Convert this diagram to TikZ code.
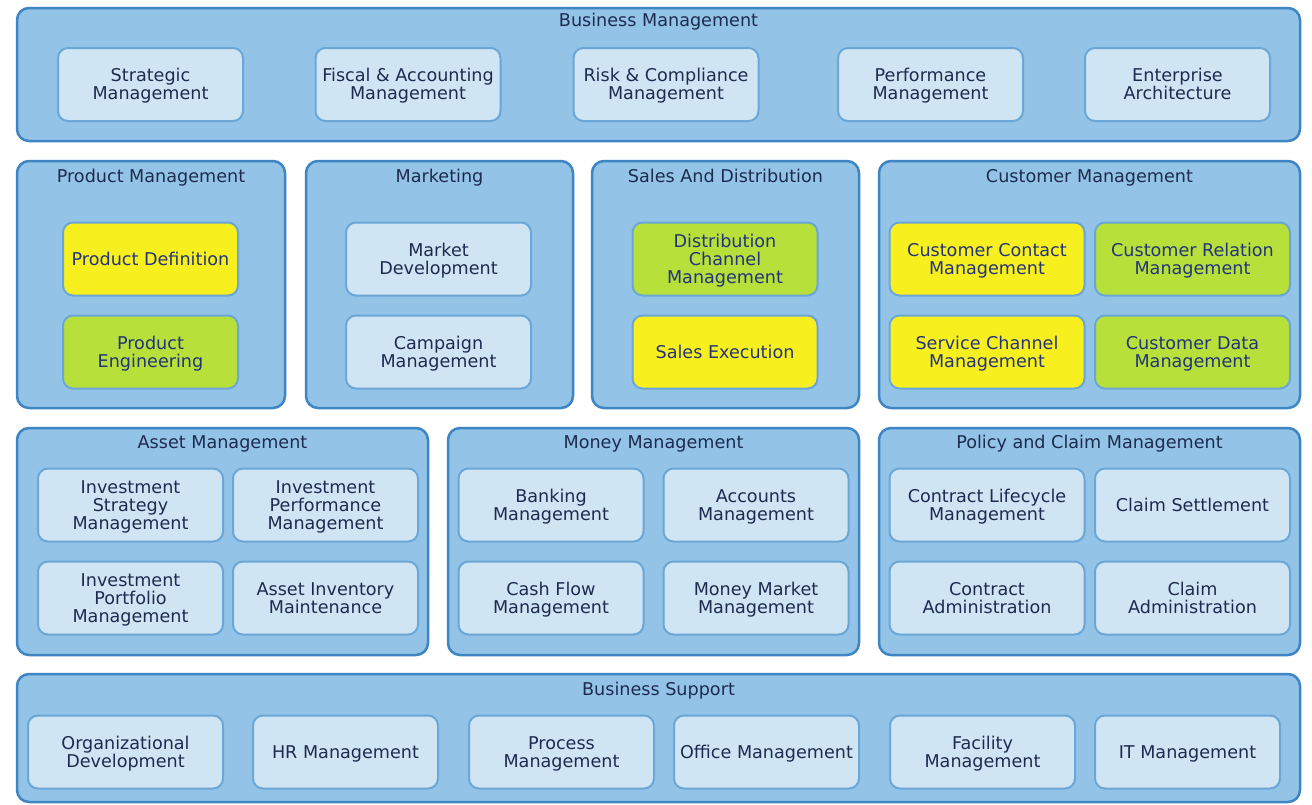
\documentclass[tikz,border=0pt]{standalone}
\usepackage{fontspec}
\setmainfont{DejaVu Sans}
\definecolor{outerfill}{HTML}{93C4E7}
\definecolor{outerline}{HTML}{3D85C3}
\definecolor{innerfill}{HTML}{D0E5F3}
\definecolor{innerline}{HTML}{6AA6D6}
\definecolor{ylwfill}{HTML}{F8F01E}
\definecolor{grnfill}{HTML}{B7E03A}
\definecolor{txt}{HTML}{1E2B4F}
\definecolor{txtb}{HTML}{24337A}
\tikzset{
  outerbox/.style={draw=outerline, line width=2.5pt, fill=outerfill, rounded corners=12pt,
    inner sep=0pt, outer sep=0pt},
  titletext/.style={anchor=base, inner sep=0pt, text=txt,
    font=\fontsize{17.6}{18}\selectfont},
  innerbox/.style={draw=innerline, line width=2pt, fill=innerfill, rounded corners=10pt,
    inner sep=0pt, outer sep=0pt, minimum width=185pt, minimum height=73pt,
    align=center, text=txt, font=\fontsize{17.6}{18}\selectfont, text depth=4pt},
  ylw/.style={fill=ylwfill, text=txtb},
  grn/.style={fill=grnfill, text=txtb},
  wide/.style={minimum width=195pt},
  narrow/.style={minimum width=175pt},
  Lone/.style={text height=16.8pt},
  Ltwo/.style={text height=34.8pt},
  Lthree/.style={text height=52.8pt},
}
\begin{document}
\begin{tikzpicture}[x=1pt,y=-1pt]
\fill[white] (0,0) rectangle (1312,804);
\useasboundingbox (0,0) rectangle (1312,804);

% ---------- outer boxes ----------
\node[outerbox, minimum width=1283pt, minimum height=133pt] (bm) at (658.5,74.5) {};
\node[outerbox, minimum width=268pt, minimum height=247pt] (pm) at (151,284.5) {};
\node[outerbox, minimum width=267pt, minimum height=247pt] (mk) at (439.5,284.5) {};
\node[outerbox, minimum width=267pt, minimum height=247pt] (sd) at (725.5,284.5) {};
\node[outerbox, minimum width=421pt, minimum height=247pt] (cm) at (1089.5,284.5) {};
\node[outerbox, minimum width=411pt, minimum height=227pt] (am) at (222.5,541.5) {};
\node[outerbox, minimum width=411pt, minimum height=227pt] (mm) at (653.5,541.5) {};
\node[outerbox, minimum width=421pt, minimum height=227pt] (pc) at (1089.5,541.5) {};
\node[outerbox, minimum width=1283pt, minimum height=128pt] (bs) at (658.5,738) {};

% ---------- titles ----------
\node[titletext] (tbm) at (658.5,26.4) {Business Management};
\node[titletext] (tpm) at (151,182.4) {Product Management};
\node[titletext] (tmk) at (439.5,182.4) {Marketing};
\node[titletext] (tsd) at (725.5,182.4) {Sales And Distribution};
\node[titletext] (tcm) at (1089.5,182.4) {Customer Management};
\node[titletext] (tam) at (222.5,448.4) {Asset Management};
\node[titletext] (tmm) at (653.5,448.4) {Money Management};
\node[titletext] (tpc) at (1089.5,448.4) {Policy and Claim Management};
\node[titletext] (tbs) at (658.5,695.4) {Business Support};

% ---------- Business Management ----------
\node[innerbox, Ltwo] (sm) at (150.5,84.5) {Strategic\\Management};
\node[innerbox, Ltwo] (fa) at (408,84.5) {Fiscal \& Accounting\\Management};
\node[innerbox, Ltwo] (rc) at (666,84.5) {Risk \& Compliance\\Management};
\node[innerbox, Ltwo] (pf) at (930.5,84.5) {Performance\\Management};
\node[innerbox, Ltwo] (ea) at (1177.5,84.5) {Enterprise\\Architecture};

% ---------- Product Management ----------
\node[innerbox, narrow, ylw, Lone] (pd) at (150.5,259) {Product Definition};
\node[innerbox, narrow, grn, Ltwo] (pe) at (150.5,352) {Product\\Engineering};

% ---------- Marketing ----------
\node[innerbox, Ltwo] (md) at (438.5,259) {Market\\Development};
\node[innerbox, Ltwo] (cpm) at (438.5,352) {Campaign\\Management};

% ---------- Sales And Distribution ----------
\node[innerbox, grn, Lthree] (dcm) at (725,259) {Distribution\\Channel\\Management};
\node[innerbox, ylw, Lone] (se) at (725,352) {Sales Execution};

% ---------- Customer Management ----------
\node[innerbox, wide, ylw, Ltwo] (ccm) at (987,259) {Customer Contact\\Management};
\node[innerbox, wide, grn, Ltwo] (crm) at (1192.5,259) {Customer Relation\\Management};
\node[innerbox, wide, ylw, Ltwo] (scm) at (987,352) {Service Channel\\Management};
\node[innerbox, wide, grn, Ltwo] (cdm) at (1192.5,352) {Customer Data\\Management};

% ---------- Asset Management ----------
\node[innerbox, Lthree] (ism) at (130.5,505) {Investment\\Strategy\\Management};
\node[innerbox, Lthree] (ipm) at (325.5,505) {Investment\\Performance\\Management};
\node[innerbox, Lthree] (ipfm) at (130.5,598) {Investment\\Portfolio\\Management};
\node[innerbox, Ltwo] (aim) at (325.5,598) {Asset Inventory\\Maintenance};

% ---------- Money Management ----------
\node[innerbox, Ltwo] (bkm) at (551,505) {Banking\\Management};
\node[innerbox, Ltwo] (acm) at (756,505) {Accounts\\Management};
\node[innerbox, Ltwo] (cfm) at (551,598) {Cash Flow\\Management};
\node[innerbox, Ltwo] (mmm) at (756,598) {Money Market\\Management};

% ---------- Policy and Claim Management ----------
\node[innerbox, wide, Ltwo] (clm) at (987,505) {Contract Lifecycle\\Management};
\node[innerbox, wide, Lone] (cs) at (1192.5,505) {Claim Settlement};
\node[innerbox, wide, Ltwo] (ca) at (987,598) {Contract\\Administration};
\node[innerbox, wide, Ltwo] (cla) at (1192.5,598) {Claim\\Administration};

% ---------- Business Support ----------
\node[innerbox, wide, Ltwo] (od) at (125.5,752) {Organizational\\Development};
\node[innerbox, Lone] (hr) at (345.5,752) {HR Management};
\node[innerbox, Ltwo] (prm) at (561.5,752) {Process\\Management};
\node[innerbox, Lone] (om) at (766.5,752) {Office Management};
\node[innerbox, Ltwo] (fm) at (982.5,752) {Facility\\Management};
\node[innerbox, Lone] (itm) at (1187.5,752) {IT Management};
\end{tikzpicture}
\end{document}
